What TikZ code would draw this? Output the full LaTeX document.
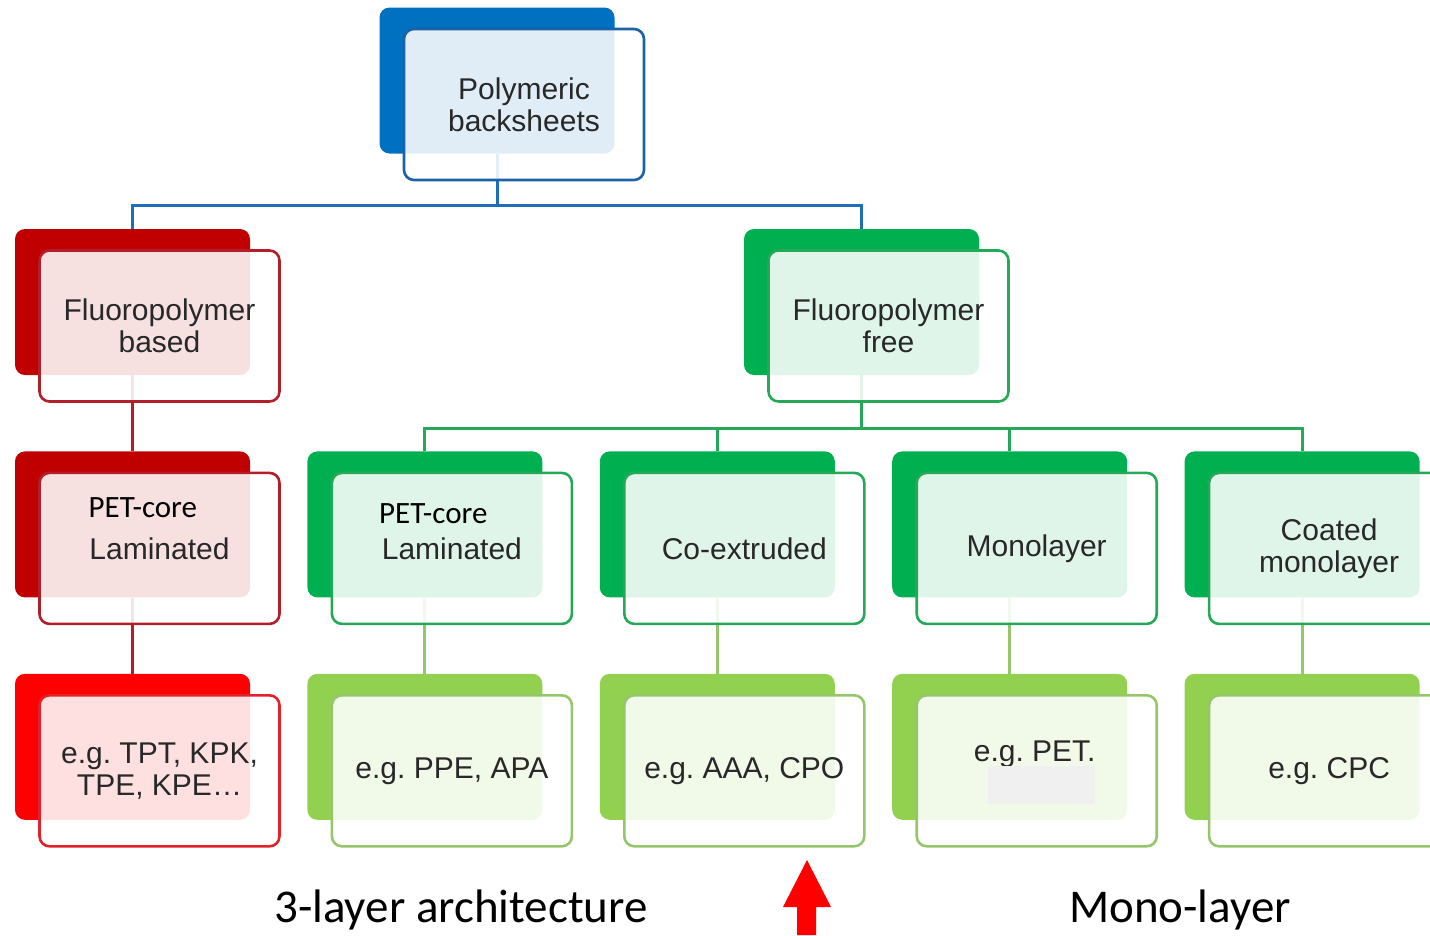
\documentclass[tikz,border=0pt]{standalone}
\usepackage{fontspec}
\setmainfont{Liberation Sans}
\newfontfamily\calibfont{Carlito}
\usetikzlibrary{positioning}
\frenchspacing
\definecolor{topblue}{RGB}{0,112,192}
\definecolor{topborder}{RGB}{28,98,168}
\definecolor{blueline}{RGB}{31,110,185}
\definecolor{redb}{RGB}{192,0,0}
\definecolor{redborder}{RGB}{178,30,42}
\definecolor{brightred}{RGB}{255,0,0}
\definecolor{brightborder}{RGB}{228,32,40}
\definecolor{greenb}{RGB}{0,176,80}
\definecolor{greenborder}{RGB}{38,168,88}
\definecolor{limeb}{RGB}{146,208,80}
\definecolor{limeborder}{RGB}{150,198,108}
\definecolor{txtgray}{RGB}{40,40,40}
\definecolor{patchgray}{RGB}{240,240,240}

\begin{document}
\begin{tikzpicture}[
  x=1pt,y=-1pt,
  backbox/.style={
    rounded corners=10pt,
    minimum width=235pt,
    minimum height=146pt,
    inner sep=0pt
  },
  frontbox/.style={
    rounded corners=10pt,
    fill=white,
    fill opacity=.88,
    text opacity=1,
    line width=2.6pt,
    minimum width=240pt,
    minimum height=151pt,
    align=center,
    text=txtgray,
    font=\fontsize{30}{32}\selectfont
  },
  conn/.style={line width=3pt},
  calib/.style={font=\calibfont\fontsize{31}{34}\selectfont,text=black,inner sep=0pt}
]
\useasboundingbox (0,0) rectangle (1430,935);

% back plates
\node[backbox,fill=topblue] (topb) at (497,80.5) {};
\node[backbox,fill=redb] (rfb) at (132.5,302) {};
\node[backbox,fill=redb,below=76pt of rfb] (rlb) {};
\node[backbox,fill=brightred,below=76pt of rlb] (rxb) {};
\node[backbox,fill=greenb] (gfb) at (861.5,302) {};
\node[backbox,fill=greenb,right=57pt of rlb] (glb) {};
\node[backbox,fill=greenb,right=57pt of glb] (gcb) {};
\node[backbox,fill=greenb,right=57pt of gcb] (gmb) {};
\node[backbox,fill=greenb,right=57pt of gmb] (gkb) {};
\node[backbox,fill=limeb,below=76pt of glb] (gle) {};
\node[backbox,fill=limeb,below=76pt of gcb] (gce) {};
\node[backbox,fill=limeb,below=76pt of gmb] (gme) {};
\node[backbox,fill=limeb,below=76pt of gkb] (gke) {};

% connectors
\draw[conn,draw=blueline] (topb.south) -- ++(0,52) coordinate (tj) -| (rfb.north);
\draw[conn,draw=blueline] (tj) -| (gfb.north);
\draw[conn,draw=redborder] (rfb.south) -- (rlb.north);
\draw[conn,draw=redborder] (rlb.south) -- (rxb.north);
\draw[conn,draw=greenborder] (gfb.south) -- ++(0,53) coordinate (gj);
\foreach \b in {glb,gcb,gmb,gkb}
  \draw[conn,draw=greenborder] (gj) -| (\b.north);
\foreach \u/\l in {glb/gle,gcb/gce,gmb/gme,gkb/gke}
  \draw[conn,draw=limeborder] (\u.south) -- (\l.north);

% front plates
\node[frontbox,draw=topborder] (topf) at ([shift={(27,24)}]topb.center) {Polymeric\\backsheets};
\node[frontbox,draw=redborder] (rff) at ([shift={(27,24)}]rfb.center) {Fluoropolymer\\based};
\node[frontbox,draw=redborder] (rlf) at ([shift={(27,24)}]rlb.center) {Laminated};
\node[frontbox,draw=brightborder] (rxf) at ([shift={(27,24)}]rxb.center) {e.g. TPT, KPK,\\TPE, KPE\dots};
\node[frontbox,draw=greenborder] (gff) at ([shift={(27,24)}]gfb.center) {Fluoropolymer\\free};
\node[frontbox,draw=greenborder] (glf) at ([shift={(27,24)}]glb.center) {Laminated};
\node[frontbox,draw=greenborder] (gcf) at ([shift={(27,24)}]gcb.center) {Co-extruded};
\node[frontbox,draw=greenborder] (gmf) at ([shift={(27,24)}]gmb.center) {Monolayer};
\node[frontbox,draw=greenborder] (gkf) at ([shift={(27,24)}]gkb.center) {Coated\\monolayer};
\node[frontbox,draw=limeborder] (glx) at ([shift={(27,24)}]gle.center) {e.g. PPE, APA};
\node[frontbox,draw=limeborder] (gcx) at ([shift={(27,24)}]gce.center) {e.g. AAA, CPO};
\node[frontbox,draw=limeborder] (gmx) at ([shift={(27,24)}]gme.center) {};
\node[frontbox,draw=limeborder] (gkx) at ([shift={(27,24)}]gke.center) {e.g. CPC};

% added labels
\node[calib,anchor=base west] (rpet) at ([shift={(-71,-31)}]rlf.center) {PET-core};
\node[calib,anchor=base west] (gpet) at ([shift={(-73,-25)}]glf.center) {PET-core};
\node[text=txtgray,font=\fontsize{30}{32}\selectfont] (mpet) at ([shift={(-2,-17)}]gmx.center) {e.g. PET.};
\fill[patchgray] ([shift={(-49,-5)}]gmx.center) rectangle ([shift={(58,33)}]gmx.center);

\node[font=\calibfont\fontsize{47}{50}\selectfont] (three) at (461,910) {3-layer architecture};
\node[font=\calibfont\fontsize{47}{50}\selectfont] (mono) at (1180,910) {Mono-layer};
\fill[brightred] (797,935) -- (797,907) -- (783,907) -- (807,860) -- (831,907) -- (816,907) -- (816,935) -- cycle;
\end{tikzpicture}
\end{document}
